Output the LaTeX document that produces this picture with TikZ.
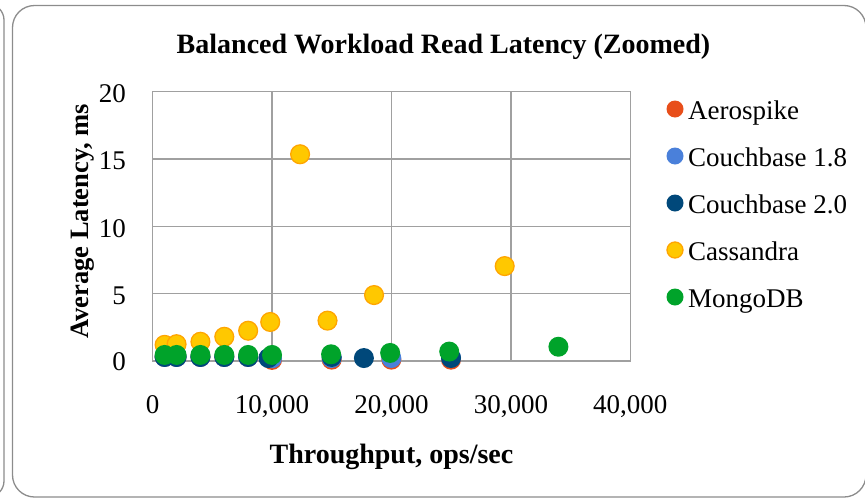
\documentclass[tikz,border=0pt]{standalone}
\usepackage{fontspec}
\setmainfont{Liberation Serif}
\definecolor{gridgray}{RGB}{160,160,160}
\definecolor{framegray}{RGB}{140,140,140}
\definecolor{aero}{RGB}{232,78,26}
\definecolor{cbone}{RGB}{74,128,218}
\definecolor{cbtwo}{RGB}{0,72,122}
\definecolor{cass}{RGB}{255,200,0}
\definecolor{cassedge}{RGB}{255,165,0}
\definecolor{mongo}{RGB}{0,163,42}
\tikzset{
  frame/.style={draw=framegray,line width=1.3pt},
  gridline/.style={draw=gridgray,line width=1.4pt},
  ticklab/.style={inner sep=0pt,font=\fontsize{27}{30}\selectfont},
  titlelab/.style={inner sep=0pt,font=\fontsize{28}{32}\selectfont\bfseries},
  leglab/.style={inner sep=0pt,anchor=base west,font=\fontsize{27}{30}\selectfont},
  ptaero/.style={fill=aero},
  ptcbone/.style={fill=cbone},
  ptcbtwo/.style={fill=cbtwo},
  ptcass/.style={fill=cass,draw=cassedge,line width=1.3pt},
  ptmongo/.style={fill=mongo},
}
\begin{document}
\begin{tikzpicture}[x=1pt,y=-1pt]
\useasboundingbox (0,0) rectangle (865,501);
\begin{scope}
\clip (0,0) rectangle (865,501);
% previous chart's frame (right edge)
\draw[frame] (-40,4) [rounded corners=16pt] -- (4,4) -- (4,497) -- (-40,497);
% this chart's frame
\draw[frame,rounded corners=22pt] (12.5,5.5) rectangle (866,497);
\end{scope}
% plot area grid
\foreach \gx in {272.1,391.5,510.9}
  \draw[gridline] (\gx,91.7) -- (\gx,361);
\foreach \gy in {159,226.3,293.7}
  \draw[gridline] (152.7,\gy) -- (630.3,\gy);
\draw[gridline] (152.7,91.7) rectangle (630.3,361);
% y tick labels
\node[ticklab,anchor=east] (y20) at (126,94) {20};
\node[ticklab,anchor=east] (y15) at (126,161) {15};
\node[ticklab,anchor=east] (y10) at (126,228.3) {10};
\node[ticklab,anchor=east] (y5)  at (126,295.7) {5};
\node[ticklab,anchor=east] (y0)  at (126,362) {0};
% x tick labels
\node[ticklab,anchor=base] (x0)  at (152.7,413) {0};
\node[ticklab,anchor=base] (x1)  at (272.1,413) {10,000};
\node[ticklab,anchor=base] (x2)  at (391.5,413) {20,000};
\node[ticklab,anchor=base] (x3)  at (510.9,413) {30,000};
\node[ticklab,anchor=base] (x4)  at (630.3,413) {40,000};
% titles
\node[titlelab,anchor=base] (title) at (443.5,53) {Balanced Workload Read Latency (Zoomed)};
\node[titlelab,anchor=base] (xtitle) at (391.5,463) {Throughput, ops/sec};
\node[titlelab,anchor=base,rotate=90,font=\fontsize{26.5}{30}\selectfont\bfseries] (ytitle) at (88,221.5) {Average Latency, ms};
% data
\begin{scope}[shift={(152.7pt,-361pt)},x=0.011940pt,y=13.46pt]
  \foreach \px/\py in {1000/0.3,2000/0.3,4000/0.3,6000/0.3,8000/0.3,10000/0.08,15000/0.1,20000/0.1,25000/0.1}
    \fill[ptaero] (\px,\py) circle[radius=10pt];
  \foreach \px/\py in {1000/0.3,2000/0.3,4000/0.3,6000/0.3,8000/0.3,10000/0.2,15000/0.22,20000/0.22,25000/0.25}
    \fill[ptcbone] (\px,\py) circle[radius=10pt];
  \foreach \px/\py in {1000/0.3,2000/0.3,4000/0.3,6000/0.3,8000/0.3,9700/0.22,15000/0.3,17700/0.22,25000/0.22}
    \fill[ptcbtwo] (\px,\py) circle[radius=10pt];
  \foreach \px/\py in {1000/1.2,2000/1.25,4000/1.43,6000/1.8,8000/2.25,9850/2.9,12350/15.36,14650/3.0,18550/4.9,29500/7.05}
    \filldraw[ptcass] (\px,\py) circle[radius=9.4pt];
  \foreach \px/\py in {1000/0.45,2000/0.45,4000/0.45,6000/0.45,8000/0.45,10000/0.45,14950/0.5,19900/0.6,24850/0.7,34000/1.06}
    \fill[ptmongo] (\px,\py) circle[radius=10pt];
\end{scope}
% legend
\fill[ptaero] (675,109) circle[radius=8.5pt];
\node[leglab] (laero) at (688,119) {Aerospike};
\fill[ptcbone] (675,156) circle[radius=8.5pt];
\node[leglab] (lcbone) at (688,166) {Couchbase 1.8};
\fill[ptcbtwo] (675,203) circle[radius=8.5pt];
\node[leglab] (lcbtwo) at (688,213) {Couchbase 2.0};
\filldraw[ptcass] (675,250) circle[radius=8pt];
\node[leglab] (lcass) at (688,260) {Cassandra};
\fill[ptmongo] (675,297) circle[radius=8.5pt];
\node[leglab] (lmongo) at (688,307) {MongoDB};
\end{tikzpicture}
\end{document}
